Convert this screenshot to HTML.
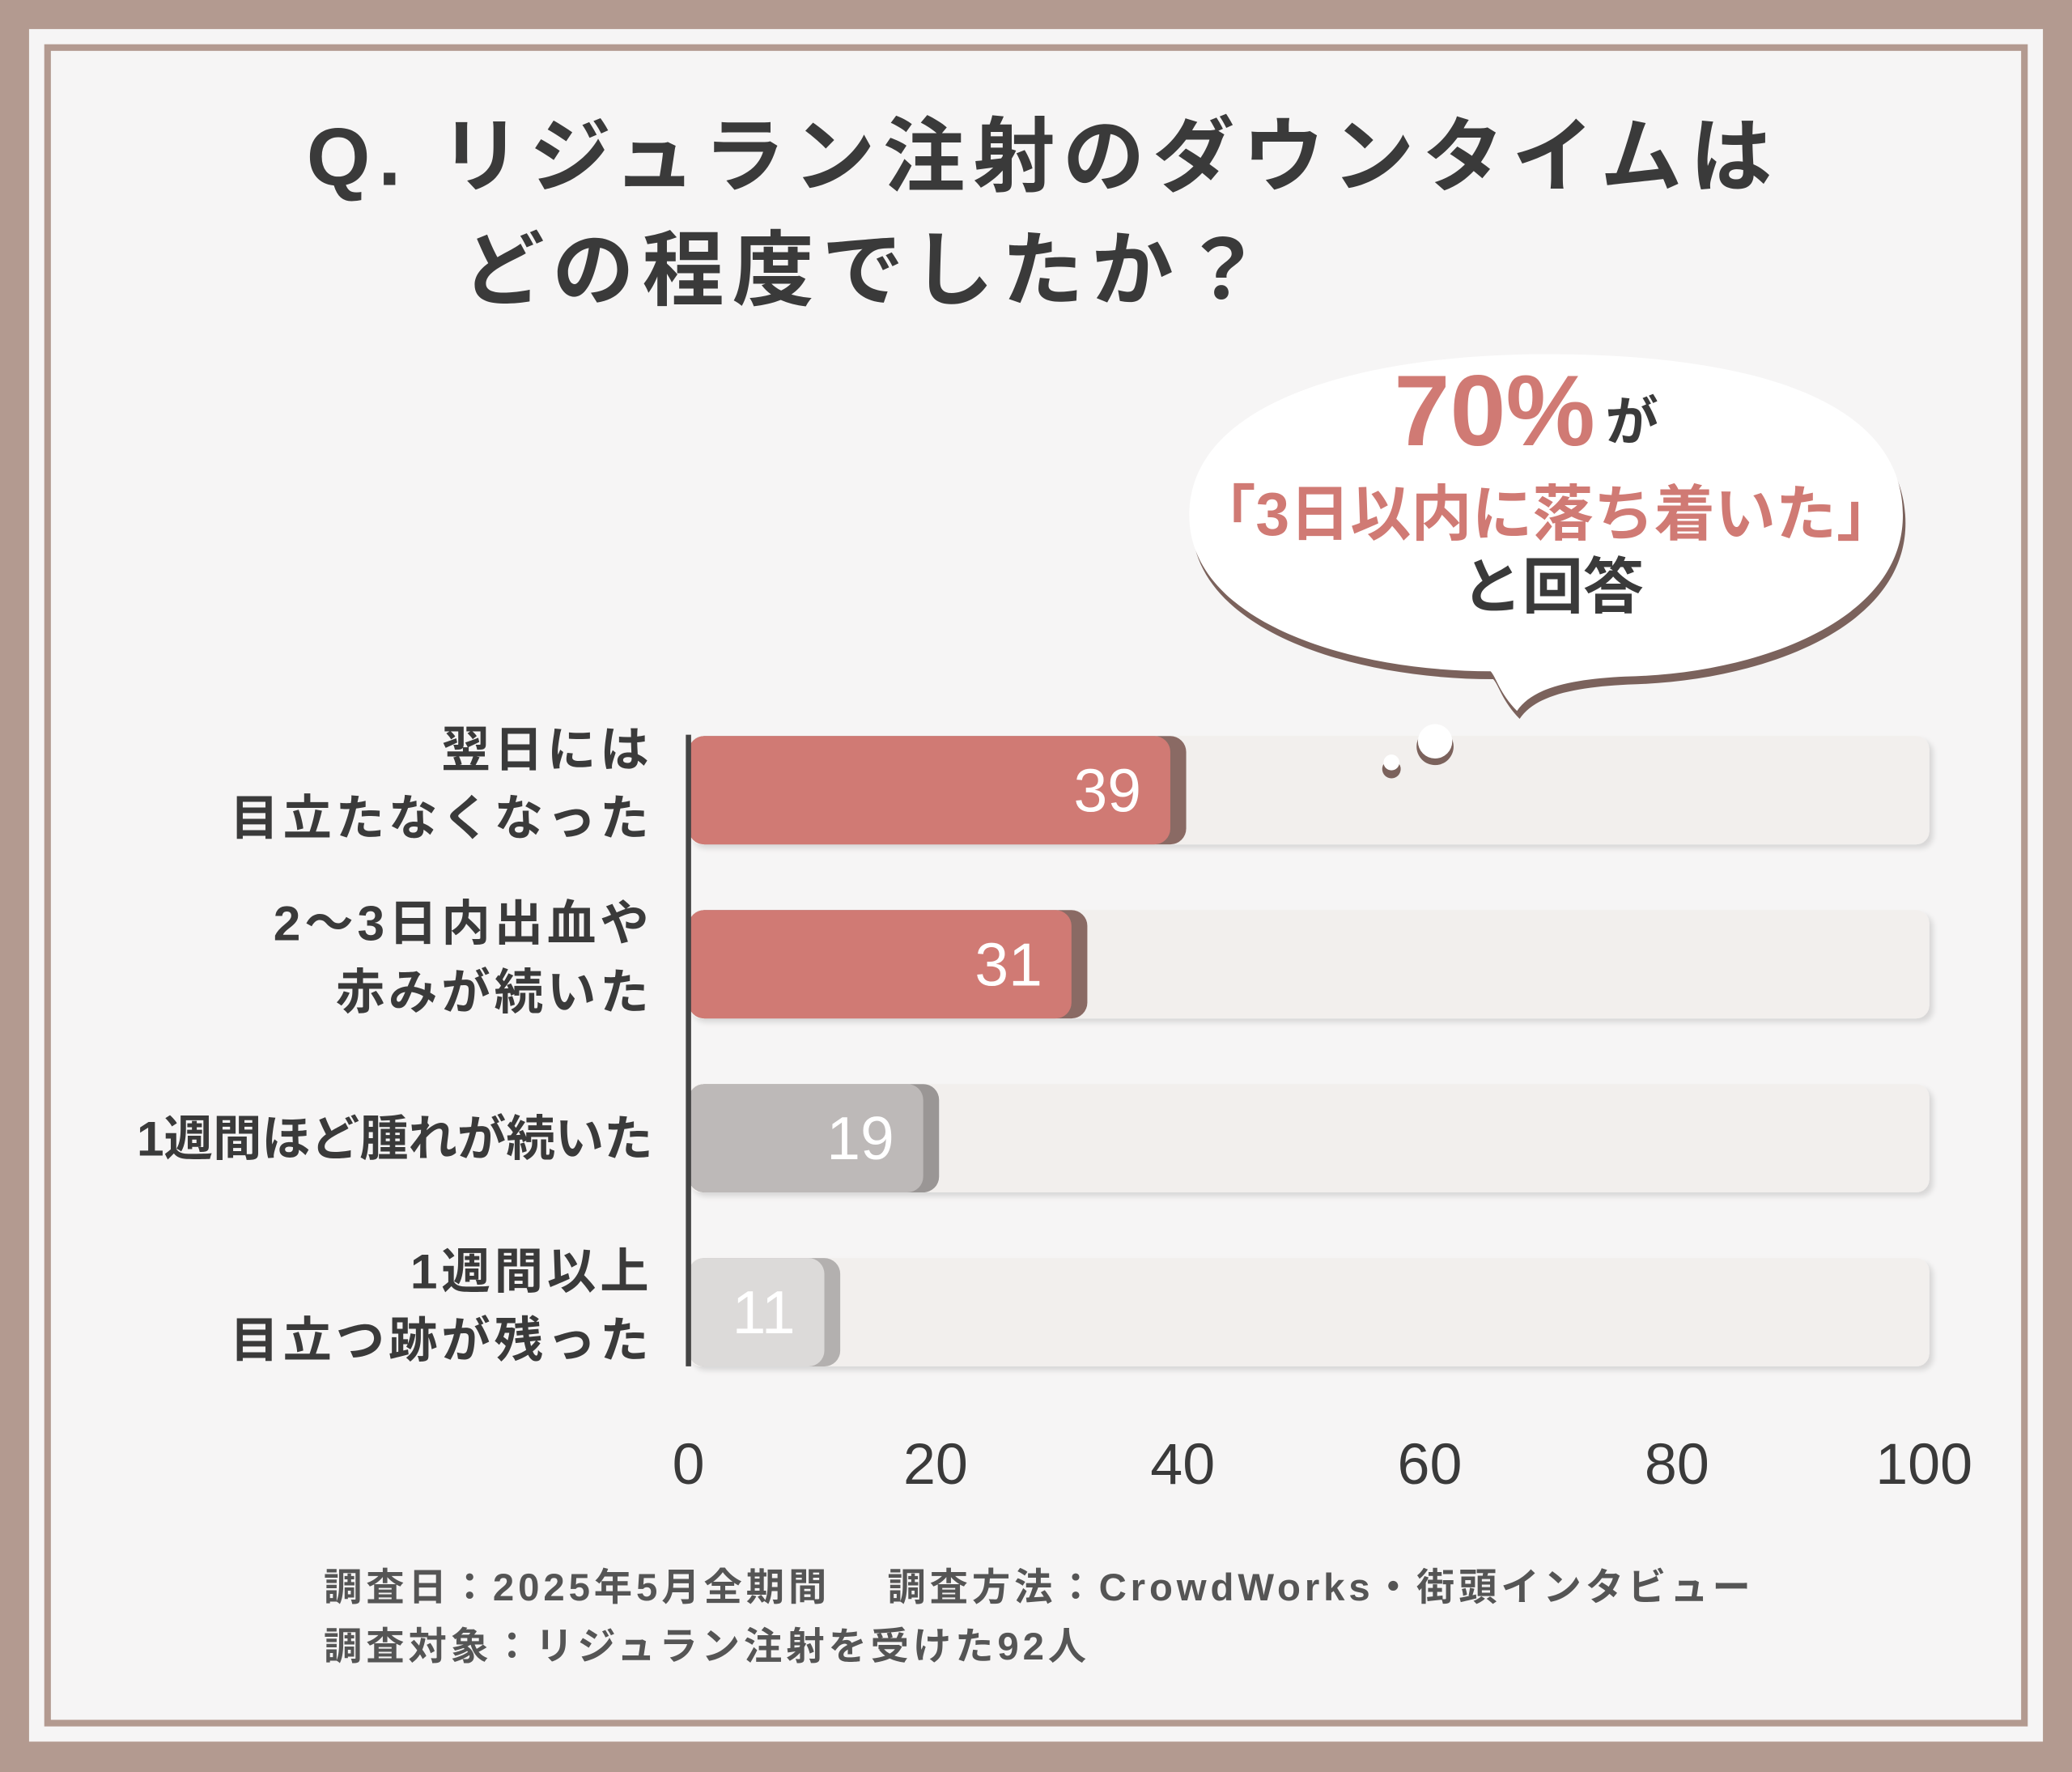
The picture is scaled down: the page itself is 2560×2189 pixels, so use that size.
<!DOCTYPE html>
<html><head><meta charset="utf-8"><style>
html,body{margin:0;padding:0;background:#b39a90;}
svg{display:block;font-family:"Liberation Sans","Noto Sans CJK JP",sans-serif;}
</style></head><body>
<svg width="2560" height="2189" viewBox="0 0 1568 1341" preserveAspectRatio="none" xmlns="http://www.w3.org/2000/svg">
<defs>
<filter id="sh" x="-10%" y="-20%" width="120%" height="140%"><feDropShadow dx="3" dy="3" stdDeviation="2" flood-color="#000" flood-opacity="0.12"/></filter>
</defs>
<rect x="0" y="0" width="1568" height="1341" fill="#b39a90"/>
<rect x="22" y="22" width="1524" height="1296" fill="#f6f5f5"/>
<rect x="36" y="36" width="1496" height="1268" fill="none" stroke="#b39a90" stroke-width="5"/>
<g fill="#3a3a3a" font-weight="bold" font-size="62" letter-spacing="6">
<text x="232" y="140">Q. リジュラン注射のダウンタイムは</text>
<text x="350" y="226">どの程度でしたか？</text>
</g>
<g>
<path d="M900,390 C900,300 1040,268 1170,268 C1320,268 1440,300 1440,390 C1440,470 1330,510 1230,512 C1190,514 1160,520 1148,538 C1135,525 1132,512 1128,508 C1020,508 900,470 900,390 Z" fill="#7b625c" transform="translate(2,6)"/>
<path d="M900,390 C900,300 1040,268 1170,268 C1320,268 1440,300 1440,390 C1440,470 1330,510 1230,512 C1190,514 1160,520 1148,538 C1135,525 1132,512 1128,508 C1020,508 900,470 900,390 Z" fill="#ffffff"/>
<text x="1055" y="337" font-size="76" font-weight="bold" fill="#d07a74">70%</text>
<text x="1215" y="333" font-size="40" font-weight="bold" fill="#3a3a3a">が</text>
<text x="1170" y="405" text-anchor="middle" font-size="46" font-weight="bold" fill="#d07a74">「3日以内に落ち着いた」</text>
<text x="1175" y="460" text-anchor="middle" font-size="46" font-weight="bold" fill="#3a3a3a">と回答</text>
</g>
<g id="plot"></g>
<g>
<circle cx="1086" cy="565" r="14" fill="#7b625c"/><circle cx="1086" cy="561" r="13" fill="#fff"/>
<circle cx="1053" cy="582" r="7" fill="#7b625c"/><circle cx="1053" cy="577" r="6" fill="#fff"/>
</g>
<g fill="#555" font-size="29" font-weight="bold" letter-spacing="3">
<text x="245" y="1211">調査日：2025年5月全期間　 調査方法：CrowdWorks・街頭インタビュー</text>
<text x="245" y="1256">調査対象：リジュラン注射を受けた92人</text>
</g>
</svg>
<script>
const categories=[["翌日には","目立たなくなった"],["2〜3日内出血や","赤みが続いた"],["1週間ほど腫れが続いた"],["1週間以上","目立つ跡が残った"]];
const values=[39,31,19,11];
const ticks=[0,20,40,60,80,100];
const fills=["#d07a74","#d07a74","#bdb9b8","#dcdad9"];
const edges=["#8a6a64","#8a6a64","#9a9695","#b3b0af"];
const txtc=["#fff","#fff","#fff","#fff"];
const NS="http://www.w3.org/2000/svg";
const g=document.getElementById('plot');
const x0=521,x1=1456,rowY0=598,rowStep=131.7,bh=82;
const xs=v=>x0+(v/100)*(x1-x0);
function el(t,a){const e=document.createElementNS(NS,t);for(const k in a)e.setAttribute(k,a[k]);g.appendChild(e);return e;}
values.forEach((v,i)=>{
 const cy=rowY0+i*rowStep;
 const bg=el('rect',{x:x0,y:cy-bh/2,width:xs(100)-x0+4,height:bh,rx:10,fill:'#f2efed',filter:'url(#sh)'});
 
 
 const ed=el('rect',{x:x0,y:cy-bh/2,width:xs(v)-x0+12,height:bh,rx:12,fill:edges[i]});
 
 
 const b=el('rect',{x:x0,y:cy-bh/2,width:xs(v)-x0,height:bh,rx:12,fill:fills[i]});
 
 
 const t=el('text',{x:xs(v)-22,y:cy+16,'text-anchor':'end','font-size':46,fill:txtc[i]});
 t.textContent=v;
 
 
 const lines=categories[i];
 lines.forEach((s,j)=>{
  const ly=lines.length===1?cy+13:cy-18+j*52;
  const l=el('text',{x:494,y:ly,'text-anchor':'end','font-size':37,'font-weight':'bold',fill:'#3a3a3a','letter-spacing':lines.length===1?0:3});
  l.textContent=s;
  
  
 });
});
const ax=el('line',{x1:x0,y1:556,x2:x0,y2:1034,stroke:'#444',"stroke-width":4});


ticks.forEach(tv=>{
 const t=el('text',{x:xs(tv),y:1123,'text-anchor':'middle','font-size':44,fill:'#3a3a3a'});
 t.textContent=tv;
 
 
});
</script>
</body></html>
